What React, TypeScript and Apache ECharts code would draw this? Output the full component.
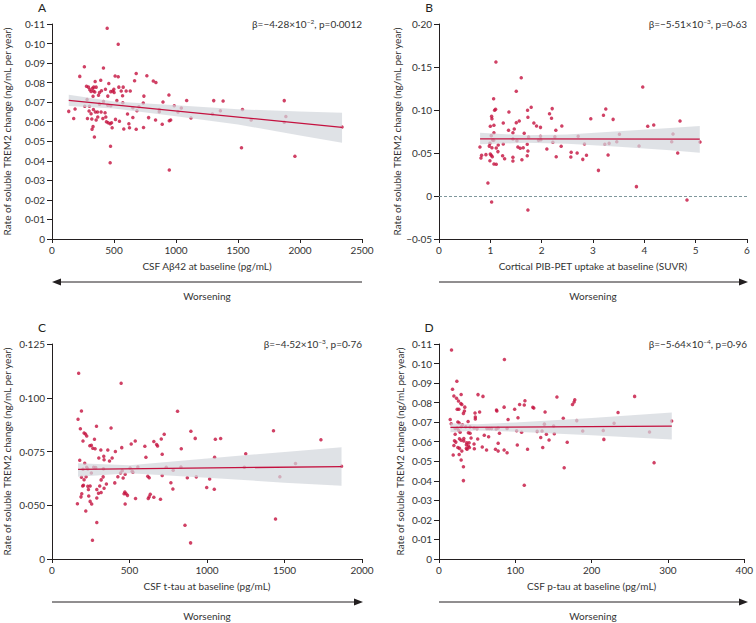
import { useEffect, useRef } from "react";
import * as echarts from "echarts";

// ---------- Data ----------
const aPoints: number[][] = [[445,0.1078],[534,0.0996],[261,0.0881],[415,0.0875],[224,0.0832],[509,0.0834],[534,0.0830],[679,0.0847],[765,0.0835],[817,0.0808],[838,0.0801],[348,0.0806],[393,0.0812],[666,0.0810],[458,0.0796],[278,0.0781],[294,0.0777],[337,0.0777],[356,0.0777],[326,0.0771],[315,0.0755],[334,0.0757],[345,0.0752],[305,0.0764],[539,0.0777],[574,0.0777],[431,0.0766],[499,0.0766],[474,0.0754],[490,0.0757],[383,0.0749],[399,0.0759],[558,0.0757],[598,0.0757],[631,0.0757],[501,0.0749],[331,0.0730],[375,0.0735],[450,0.0731],[569,0.0733],[741,0.0731],[943,0.0737],[283,0.0714],[415,0.0704],[523,0.0708],[571,0.0697],[736,0.0696],[895,0.0701],[1086,0.0709],[1304,0.0708],[1380,0.0706],[1873,0.0708],[383,0.0690],[450,0.0684],[474,0.0682],[264,0.0679],[302,0.0679],[701,0.0677],[652,0.0672],[986,0.0682],[1043,0.0670],[1536,0.0663],[186,0.0665],[135,0.0653],[334,0.0663],[350,0.0650],[367,0.0650],[396,0.0650],[428,0.0646],[299,0.0655],[315,0.0641],[685,0.0656],[865,0.0663],[865,0.0651],[1016,0.0650],[1358,0.0656],[1294,0.0640],[609,0.0639],[652,0.0622],[779,0.0621],[1121,0.0619],[1606,0.0609],[1886,0.0627],[175,0.0616],[286,0.0616],[321,0.0614],[369,0.0624],[410,0.0616],[434,0.0624],[356,0.0609],[512,0.0612],[544,0.0602],[439,0.0600],[453,0.0595],[469,0.0590],[480,0.0595],[620,0.0590],[835,0.0609],[957,0.0609],[946,0.0605],[889,0.0587],[1873,0.0597],[2339,0.0573],[331,0.0575],[323,0.0561],[485,0.0569],[579,0.0563],[625,0.0569],[679,0.0561],[738,0.0571],[342,0.0522],[472,0.0474],[1528,0.0467],[469,0.0390],[1959,0.0423],[946,0.0353]];
const aFit: number[][] = [[135,0.0709],[2339,0.0571]];
const aCiX = [135, 500, 1000, 1500, 2000, 2339];
const aCiLo = [0.0680, 0.0668, 0.0628, 0.0586, 0.0530, 0.0493];
const aCiHi = [0.0738, 0.0704, 0.0684, 0.0664, 0.0652, 0.0646];

const bPoints: number[][] = [[1.109,0.1558],[1.602,0.1376],[1.505,0.1217],[3.969,0.1267],[1.064,0.1132],[1.796,0.1031],[1.102,0.1008],[1.083,0.0996],[1.725,0.0996],[2.205,0.1016],[3.249,0.1012],[1.362,0.0977],[1.025,0.0926],[1.031,0.0899],[1.732,0.0915],[2.192,0.0903],[2.957,0.0899],[3.204,0.0938],[3.392,0.0891],[4.695,0.0872],[1.563,0.0872],[1.505,0.0853],[2.153,0.0957],[1.252,0.0849],[1.848,0.0849],[1.900,0.0814],[1.977,0.0798],[1.000,0.0810],[1.070,0.0822],[2.393,0.0814],[4.066,0.0810],[4.183,0.0826],[1.355,0.0764],[1.466,0.0779],[1.440,0.0736],[2.276,0.0764],[1.070,0.0736],[1.660,0.0729],[3.515,0.0717],[4.559,0.0721],[1.018,0.0702],[1.745,0.0686],[1.977,0.0694],[2.257,0.0690],[2.711,0.0694],[1.064,0.0647],[1.044,0.0650],[1.440,0.0663],[1.518,0.0643],[1.939,0.0647],[1.984,0.0655],[2.218,0.0624],[3.463,0.0632],[4.533,0.0632],[5.084,0.0628],[0.992,0.0612],[0.979,0.0580],[1.252,0.0605],[1.719,0.0601],[2.834,0.0605],[3.230,0.0601],[3.314,0.0612],[0.798,0.0570],[1.031,0.0562],[1.115,0.0558],[1.537,0.0570],[1.582,0.0554],[1.641,0.0562],[2.380,0.0578],[3.897,0.0581],[1.154,0.0593],[2.101,0.0547],[1.732,0.0523],[1.148,0.0516],[2.575,0.0508],[2.691,0.0500],[3.294,0.0477],[4.650,0.0500],[0.830,0.0473],[0.914,0.0481],[0.999,0.0488],[1.018,0.0473],[1.038,0.0457],[1.239,0.0469],[1.719,0.0469],[2.283,0.0457],[2.568,0.0453],[2.873,0.0473],[0.817,0.0442],[1.278,0.0434],[1.440,0.0450],[1.440,0.0407],[1.615,0.0422],[2.801,0.0426],[0.992,0.0411],[1.070,0.0372],[1.115,0.0368],[3.106,0.0298],[0.953,0.0151],[3.846,0.0109],[1.025,-0.0070],[4.831,-0.0047],[1.732,-0.0163]];
const bFit: number[][] = [[0.8,0.0664],[5.08,0.0662]];
const bCiX = [0.8, 1.7, 2.5, 3.5, 4.5, 5.08];
const bCiLo = [0.0601, 0.0618, 0.0608, 0.0572, 0.0532, 0.0504];
const bCiHi = [0.0736, 0.0706, 0.0716, 0.0752, 0.0792, 0.0814];

const cPoints: number[][] = [[172,0.1114],[446,0.1067],[190,0.0938],[810,0.0937],[168,0.0900],[287,0.0867],[381,0.0859],[183,0.0856],[1429,0.0847],[207,0.0836],[216,0.0831],[224,0.0822],[896,0.0844],[724,0.0830],[200,0.0799],[274,0.0807],[537,0.0799],[657,0.0797],[705,0.0808],[924,0.0811],[1054,0.0807],[1088,0.0810],[1735,0.0805],[244,0.0777],[254,0.0779],[263,0.0765],[278,0.0763],[315,0.0757],[360,0.0757],[450,0.0768],[511,0.0785],[599,0.0774],[675,0.0783],[681,0.0776],[409,0.0750],[834,0.0763],[1250,0.0740],[302,0.0720],[334,0.0728],[336,0.0712],[371,0.0706],[388,0.0720],[606,0.0723],[711,0.0737],[1049,0.0723],[179,0.0709],[211,0.0695],[224,0.0677],[269,0.0677],[282,0.0675],[254,0.0650],[231,0.0669],[200,0.0667],[737,0.0677],[832,0.0678],[1241,0.0677],[1571,0.0694],[1868,0.0681],[332,0.0670],[442,0.0650],[453,0.0661],[504,0.0673],[517,0.0658],[522,0.0653],[554,0.0678],[782,0.0663],[190,0.0630],[207,0.0619],[220,0.0633],[330,0.0632],[317,0.0618],[425,0.0633],[459,0.0627],[472,0.0644],[618,0.0635],[627,0.0628],[711,0.0638],[873,0.0628],[931,0.0632],[1017,0.0622],[1470,0.0633],[203,0.0593],[198,0.0590],[231,0.0588],[246,0.0590],[308,0.0590],[336,0.0579],[351,0.0599],[405,0.0604],[235,0.0573],[289,0.0573],[300,0.0556],[317,0.0559],[470,0.0562],[465,0.0553],[478,0.0553],[487,0.0546],[767,0.0605],[780,0.0576],[998,0.0583],[1047,0.0574],[192,0.0553],[237,0.0543],[289,0.0534],[187,0.0539],[246,0.0518],[256,0.0506],[164,0.0507],[472,0.0506],[539,0.0531],[621,0.0531],[627,0.0540],[634,0.0551],[657,0.0537],[700,0.0528],[218,0.0473],[289,0.0420],[261,0.0337],[858,0.0407],[1442,0.0436],[894,0.0325]];
const cFit: number[][] = [[168,0.0667],[1868,0.0680]];
const cCiX = [168, 500, 1000, 1500, 1868];
const cCiLo = [0.0632, 0.0649, 0.0628, 0.0605, 0.0591];
const cCiHi = [0.0695, 0.0686, 0.0718, 0.0748, 0.0770];

const dPoints: number[][] = [[16.4,0.1069],[85.7,0.1021],[23.4,0.0909],[17.7,0.0868],[29.0,0.0842],[19.5,0.0834],[23.0,0.0822],[51.1,0.0841],[57.6,0.0832],[256.3,0.0832],[154.5,0.0829],[25.5,0.0808],[28.6,0.0796],[29.9,0.0791],[33.8,0.0777],[112.6,0.0810],[111.7,0.0788],[105.6,0.0791],[177.9,0.0815],[177.0,0.0803],[174.9,0.0791],[85.3,0.0777],[122.9,0.0776],[124.2,0.0772],[23.8,0.0766],[26.0,0.0766],[75.3,0.0762],[75.8,0.0757],[99.1,0.0766],[33.3,0.0757],[32.0,0.0745],[47.2,0.0747],[53.2,0.0752],[139.0,0.0752],[234.6,0.0749],[47.6,0.0726],[47.6,0.0716],[90.5,0.0714],[103.5,0.0723],[162.8,0.0720],[180.5,0.0708],[304.8,0.0706],[14.7,0.0714],[24.7,0.0701],[26.4,0.0696],[38.1,0.0704],[229.4,0.0694],[30.7,0.0687],[29.0,0.0677],[16.0,0.0692],[21.2,0.0668],[23.8,0.0670],[35.0,0.0677],[40.7,0.0675],[45.9,0.0670],[49.8,0.0667],[62.8,0.0668],[65.8,0.0668],[68.8,0.0668],[74.9,0.0665],[77.5,0.0670],[89.2,0.0668],[101.7,0.0656],[128.6,0.0653],[135.0,0.0655],[138.1,0.0690],[150.2,0.0680],[188.3,0.0655],[215.2,0.0658],[275.8,0.0650],[25.5,0.0660],[27.7,0.0648],[38.5,0.0646],[40.7,0.0643],[21.2,0.0638],[108.2,0.0648],[140.7,0.0638],[151.1,0.0641],[59.3,0.0633],[65.0,0.0626],[79.2,0.0643],[133.3,0.0622],[32.5,0.0617],[26.8,0.0615],[42.0,0.0619],[50.7,0.0614],[144.2,0.0609],[216.0,0.0612],[20.3,0.0605],[22.1,0.0598],[29.0,0.0607],[32.5,0.0604],[36.4,0.0595],[39.4,0.0595],[35.9,0.0585],[38.5,0.0578],[39.8,0.0570],[45.9,0.0588],[46.3,0.0564],[77.5,0.0592],[168.0,0.0597],[19.5,0.0581],[24.7,0.0571],[26.8,0.0566],[29.9,0.0552],[35.9,0.0566],[36.8,0.0561],[56.7,0.0573],[62.3,0.0558],[74.0,0.0561],[77.5,0.0552],[85.3,0.0558],[89.2,0.0544],[102.6,0.0583],[116.0,0.0561],[135.9,0.0571],[18.6,0.0532],[26.4,0.0535],[29.0,0.0506],[32.0,0.0472],[164.0,0.0467],[281.8,0.0493],[32.0,0.0401],[111.7,0.0377]];
const dFit: number[][] = [[15,0.0673],[305,0.0680]];
const dCiX = [15, 50, 100, 200, 305];
const dCiLo = [0.0648, 0.0657, 0.0651, 0.0633, 0.0612];
const dCiHi = [0.0694, 0.0689, 0.0699, 0.0722, 0.0750];

const xNames = ["CSF A\u03b242 at baseline (pg/mL)", "Cortical PIB-PET uptake at baseline (SUVR)", "CSF t-tau at baseline (pg/mL)", "CSF p-tau at baseline (pg/mL)"];
const yName = "Rate of soluble TREM2 change (ng/mL per year)";
const panelLetters = ["A", "B", "C", "D"];
const betaMantissa = ["\u22124\u00b728", "\u22125\u00b751", "\u22124\u00b752", "\u22125\u00b764"];
const betaExp = ["\u22122", "\u22123", "\u22123", "\u22124"];
const pValues = ["0\u00b70012", "0\u00b763", "0\u00b776", "0\u00b796"];
const xRanges = [[0, 2500, 500], [0, 6, 1], [0, 2000, 500], [0, 400, 100]];
const yRanges = [[0, 0.11, 0.01], [-0.05, 0.2, 0.05], [0.025, 0.125, 0.025], [0, 0.11, 0.01]];
const cAxisZeroLabelAt = 0.025; // panel C's bottom tick is labelled "0"

// ---------- Styles ----------
const RED = "#c4113f";
const TXT = "#333333";
const AX = "#231f20";
const FONT = "Lato";

const grids = [
  { left: 52, top: 24, width: 310, height: 215 },
  { left: 439, top: 24, width: 308, height: 215 },
  { left: 52, top: 344, width: 310, height: 215 },
  { left: 439, top: 344, width: 308, height: 215 },
];

function dotFmt(v: number, d: number): string {
  if (Math.abs(v) < 1e-9) return "0";
  const s = Math.abs(v).toFixed(d).replace(".", "\u00b7");
  return v < 0 ? "\u2212" + s : s;
}

export default function App() {
  const ref = useRef<HTMLDivElement>(null);
  useEffect(() => {
    if (!ref.current) return;
    const chart = echarts.init(ref.current, undefined, { renderer: "svg" });

    const pts = [aPoints, bPoints, cPoints, dPoints];
    const fits = [aFit, bFit, cFit, dFit];
    const cis = [
      [aCiX, aCiLo, aCiHi],
      [bCiX, bCiLo, bCiHi],
      [cCiX, cCiLo, cCiHi],
      [dCiX, dCiLo, dCiHi],
    ];
    const yFormatters = [
      (v: number) => dotFmt(v, 2),
      (v: number) => dotFmt(v, 2),
      (v: number) => (Math.abs(v - cAxisZeroLabelAt) < 1e-9 ? "0" : dotFmt(v, 3)),
      (v: number) => dotFmt(v, 2),
    ];
    const yNameGaps = [40, 34, 40, 34];

    const xAxis = grids.map((_, i) => ({
      type: "value",
      gridIndex: i,
      min: xRanges[i][0],
      max: xRanges[i][1],
      interval: xRanges[i][2],
      name: xNames[i],
      nameLocation: "middle",
      nameGap: 22,
      nameTextStyle: { color: TXT, fontSize: 10, fontFamily: FONT },
      axisLine: { onZero: false, lineStyle: { color: AX, width: 1 } },
      axisTick: { length: 4, lineStyle: { color: AX } },
      axisLabel: {
        color: TXT,
        fontSize: 10,
        fontFamily: FONT,
        margin: 6,
        showMaxLabel: true,
        showMinLabel: true,
        formatter: (v: number) => String(v),
      },
      splitLine: { show: false },
    }));
    const yAxis = grids.map((_, i) => ({
      type: "value",
      gridIndex: i,
      min: yRanges[i][0],
      max: yRanges[i][1],
      interval: yRanges[i][2],
      name: yName,
      nameLocation: "middle",
      nameGap: yNameGaps[i],
      nameTextStyle: { color: TXT, fontSize: 10, fontFamily: FONT },
      axisLine: { show: true, onZero: false, lineStyle: { color: AX, width: 1 } },
      axisTick: { show: true, length: 5, lineStyle: { color: AX } },
      axisLabel: { color: TXT, fontSize: 10, fontFamily: FONT, margin: 7, formatter: yFormatters[i] },
      splitLine: { show: false },
    }));

    const series: any[] = [];
    grids.forEach((_, i) => {
      const [cx, lo, hi] = cis[i];
      series.push({
        type: "scatter",
        xAxisIndex: i,
        yAxisIndex: i,
        data: pts[i],
        symbol: "circle",
        symbolSize: 3.5,
        itemStyle: { color: RED },
        z: 2,
        ...(i === 1
          ? {
              markLine: {
                silent: true,
                symbol: "none",
                label: { show: false },
                lineStyle: { type: [3, 2], color: "#7f979c", width: 1 },
                data: [{ yAxis: 0 }],
              },
            }
          : {}),
      });
      series.push({
        type: "custom",
        xAxisIndex: i,
        yAxisIndex: i,
        data: [[cx[0], lo[0]]],
        silent: true,
        z: 3,
        renderItem: (_p: any, api: any) => {
          const upper = cx.map((x: number, k: number) => api.coord([x, hi[k]]));
          const lower = cx.map((x: number, k: number) => api.coord([x, lo[k]])).reverse();
          return {
            type: "polygon",
            shape: { points: upper.concat(lower) },
            style: { fill: "#d3d7dc", opacity: 0.72 },
          };
        },
      });
      series.push({
        type: "line",
        xAxisIndex: i,
        yAxisIndex: i,
        data: fits[i],
        symbol: "none",
        silent: true,
        lineStyle: { color: RED, width: 1.3 },
        z: 4,
      });
    });

    const graphic: any[] = [];
    const arrowY = [282, 282, 602, 602];
    const worsY = [296, 296, 616, 616];
    grids.forEach((g, i) => {
      const x0 = g.left;
      const x1 = g.left + g.width;
      const cx = (x0 + x1) / 2;
      graphic.push({
        type: "text",
        x: x0 - 10,
        y: g.top - 23,
        style: { text: panelLetters[i], fontSize: 12, fontFamily: FONT, fill: "#231f20", align: "center", verticalAlign: "top" },
      });
      graphic.push({
        type: "text",
        x: x1,
        y: g.top,
        style: {
          text: "\u03b2=" + betaMantissa[i] + "\u00d710{s|" + betaExp[i] + "}, p=" + pValues[i],
          fontSize: 10,
          fontFamily: FONT,
          fill: TXT,
          align: "right",
          verticalAlign: "middle",
          rich: { s: { fontSize: 6.5, fontFamily: FONT, fill: TXT, verticalAlign: "top", lineHeight: 12 } },
        },
      });
      const left = i === 0;
      graphic.push({
        type: "line",
        shape: { x1: left ? x0 + 8 : x0, y1: arrowY[i], x2: left ? x1 : x1 - 8, y2: arrowY[i] },
        style: { stroke: AX, lineWidth: 1 },
      });
      graphic.push({
        type: "polygon",
        shape: {
          points: left
            ? [[x0, arrowY[i]], [x0 + 9, arrowY[i] - 3.5], [x0 + 9, arrowY[i] + 3.5]]
            : [[x1 + 1, arrowY[i]], [x1 - 8, arrowY[i] - 3.5], [x1 - 8, arrowY[i] + 3.5]],
        },
        style: { fill: AX },
      });
      graphic.push({
        type: "text",
        x: cx,
        y: worsY[i],
        style: { text: "Worsening", fontSize: 10, fontFamily: FONT, fill: TXT, align: "center", verticalAlign: "middle" },
      });
    });

    chart.setOption({
      animation: false,
      textStyle: { fontFamily: FONT },
      grid: grids,
      xAxis,
      yAxis,
      series,
      graphic,
    });
    return () => chart.dispose();
  }, []);

  return (
    <div
      ref={ref}
      style={{ position: "fixed", left: 0, top: 0, width: 756, height: 623, background: "#ffffff" }}
    />
  );
}
